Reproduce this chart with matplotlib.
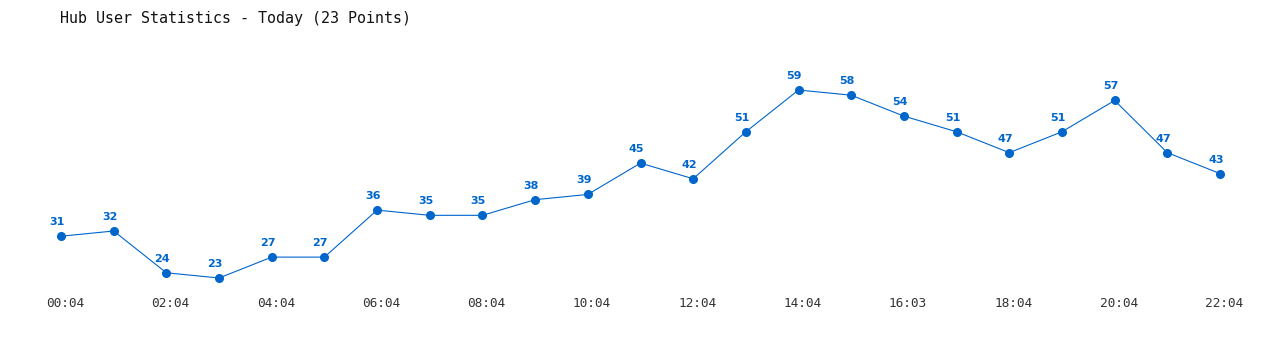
import matplotlib

matplotlib.use("Agg")
import matplotlib.pyplot as plt  # noqa: E402
from matplotlib.transforms import ScaledTranslation  # noqa: E402

# Hub users, one reading per hour
users = [31, 32, 24, 23, 27, 27, 36, 35, 35, 38, 39, 45,
         42, 51, 59, 58, 54, 51, 47, 51, 57, 47, 43]
times = ["00:04", "01:04", "02:04", "03:04", "04:04", "05:04", "06:04",
         "07:04", "08:04", "09:04", "10:04", "11:04", "12:04", "13:04",
         "14:04", "15:04", "16:03", "17:04", "18:04", "19:04", "20:04",
         "21:04", "22:04"]

W, H = 1280, 350
fig = plt.figure(figsize=(W / 100, H / 100), dpi=100)
# axes box: first point to last point, lowest value to highest value
x0, x1, ytop, ybot = 61, 1220, 90, 278
ax = fig.add_axes([x0 / W, 1 - ybot / H, (x1 - x0) / W, (ybot - ytop) / H])

blue = "#0066cc"
xs = list(range(len(users)))
ax.plot(xs, users, color=blue, lw=0.8, marker="o", ms=5.5, clip_on=False)
for x, v in zip(xs, users):
    ax.annotate(str(v), (x, v), xytext=(-3, 6.5), textcoords="offset points",
                ha="center", va="bottom", fontsize=8, fontweight="bold",
                color=blue, family="DejaVu Sans")

ax.set_xlim(0, len(users) - 1)
ax.set_ylim(min(users), max(users))
ax.set_xticks(xs[::2])
ax.set_xticklabels(times[::2], family="DejaVu Sans Mono", fontsize=9.2, color="#333333")
ax.tick_params(axis="x", length=0, pad=14)
shift = ScaledTranslation(4 / 100, 0, fig.dpi_scale_trans)
for lbl in ax.get_xticklabels():
    lbl.set_transform(lbl.get_transform() + shift)
ax.set_yticks([])
for s in ax.spines.values():
    s.set_visible(False)

fig.text(60 / W, 1 - 18 / H, "Hub User Statistics - Today (23 Points)",
         family="DejaVu Sans Mono", fontsize=10.8, color="#111111",
         ha="left", va="center")

fig.savefig("out.png", dpi=100)
